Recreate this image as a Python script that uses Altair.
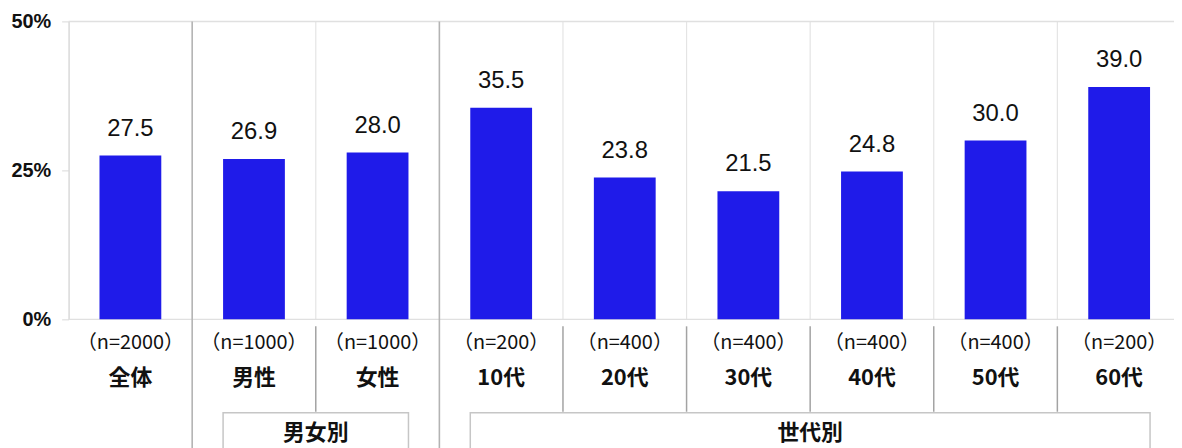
import altair as alt
import pandas as pd

categories = ["全体", "男性", "女性", "10代", "20代", "30代", "40代", "50代", "60代"]
values = [27.5, 26.9, 28.0, 35.5, 23.8, 21.5, 24.8, 30.0, 39.0]
n_labels = ["（n=2000）", "（n=1000）", "（n=1000）", "（n=200）", "（n=400）",
            "（n=400）", "（n=400）", "（n=400）", "（n=200）"]
group_names = ["男女別", "世代別"]
group_first = ["男性", "10代"]
group_last = ["女性", "60代"]
group_mid = ["女性", "40代"]
group_breaks = ["男性", "10代"]
inner_breaks = ["女性", "20代", "30代", "40代", "50代", "60代"]
y_ticks = [0, 25, 50]
y_lines = [0, 50]

W = 1120
H = 300
step = W / len(categories)
half = step / 2

JP = "Noto Sans CJK JP"
NUM = "Liberation Sans"

df = pd.DataFrame({"cat": categories, "value": values, "n": n_labels})
df_groups = pd.DataFrame({"name": group_names, "first": group_first,
                          "last": group_last, "mid": group_mid})
df_gb = pd.DataFrame({"cat": group_breaks})
df_ib = pd.DataFrame({"cat": inner_breaks})
df_yl = pd.DataFrame({"v": y_lines})

xscale = alt.Scale(domain=categories, paddingInner=0.5, paddingOuter=0.25)
yscale = alt.Scale(domain=[0, 50])


def X(field):
    return alt.X(f"{field}:N", scale=xscale, axis=None)


grid = alt.Chart(df_ib).mark_rule(color="#e4e4e4", strokeWidth=1.2, xOffset=-half).encode(
    x=X("cat"), y=alt.value(0), y2=alt.value(H))

below = alt.Chart(df_ib).mark_rule(color="#a3a3a3", strokeWidth=1.5, xOffset=-half).encode(
    x=X("cat"), y=alt.value(H + 7), y2=alt.value(H + 93))

group_sep = alt.Chart(df_gb).mark_rule(color="#b3b3b3", strokeWidth=1.6, xOffset=-half).encode(
    x=X("cat"), y=alt.value(0), y2=alt.value(H + 140))

hlines = alt.Chart(df_yl).mark_rule(color="#e0e0e0", strokeWidth=1.5).encode(
    y=alt.Y("v:Q", scale=yscale), x=alt.value(0), x2=alt.value(W))

bars = alt.Chart(df).mark_bar(color="#1f1be9").encode(
    x=X("cat"),
    y=alt.Y("value:Q", scale=yscale,
            axis=alt.Axis(values=y_ticks, labelExpr="datum.value + '%'", grid=False,
                          domainColor="#d9d9d9", domainWidth=1.5, tickColor="#d9d9d9",
                          tickSize=7, labelFontSize=20, labelFont=NUM, labelFontWeight="bold",
                          labelColor="#111111", labelPadding=11, title=None)))

vals = alt.Chart(df).mark_text(baseline="bottom", dy=-15, fontSize=24, font=NUM,
                               color="#111111").encode(
    x=X("cat"), y=alt.Y("value:Q", scale=yscale), text=alt.Text("value:Q", format=".1f"))

nlab = alt.Chart(df).mark_text(baseline="middle", fontSize=20, font=JP, color="#111111").encode(
    x=X("cat"), y=alt.value(H + 24), text="n:N")

clab = alt.Chart(df).mark_text(baseline="middle", fontSize=22, font=JP, fontWeight="bold",
                               color="#111111").encode(
    x=X("cat"), y=alt.value(H + 59), text="cat:N")

boxes = alt.Chart(df_groups).mark_rect(fill="white", stroke="#c6c6c6", strokeWidth=1.5).encode(
    x=alt.X("first:N", scale=xscale, axis=None, bandPosition=0),
    x2=alt.X2("last", bandPosition=1),
    y=alt.value(H + 94), y2=alt.value(H + 145))

glab = alt.Chart(df_groups).mark_text(baseline="middle", fontSize=22, font=JP, fontWeight="bold",
                                      color="#111111", xOffset=-half).encode(
    x=X("mid"), y=alt.value(H + 114), text="name:N")

chart = alt.layer(grid, below, hlines, group_sep, boxes, bars, vals, nlab, clab, glab).properties(
    width=W, height=H,
    autosize=alt.AutoSizeParams(type="none"),
    padding={"left": 61, "top": 12, "right": -7, "bottom": 128},
).configure_view(stroke=None)

chart.save("out.html", embed_options={"renderer": "svg", "actions": False})
